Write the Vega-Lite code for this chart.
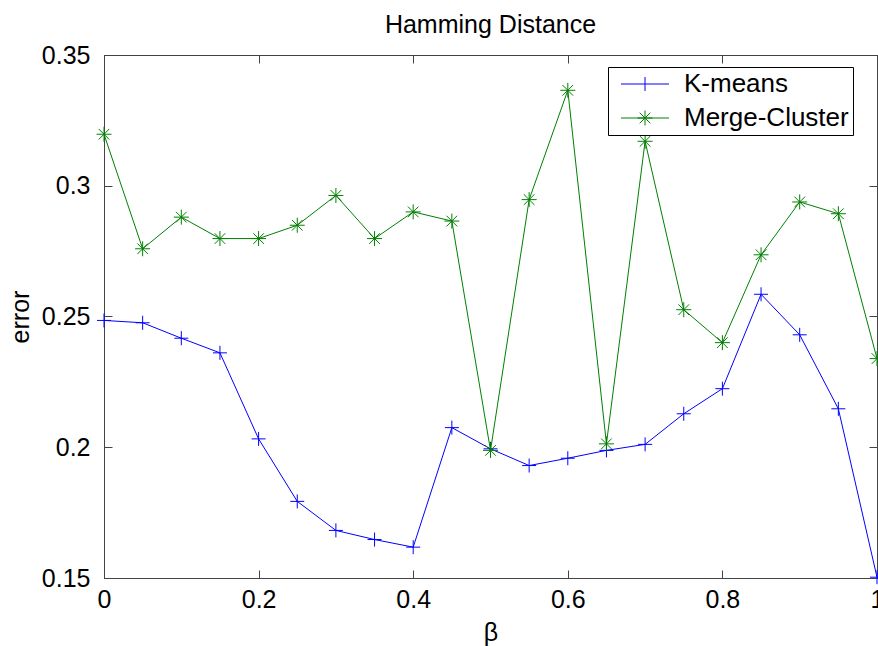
{
  "$schema": "https://vega.github.io/schema/vega-lite/v6.json",
  "width": 773,
  "height": 523,
  "autosize": "none",
  "padding": {"left": 104, "top": 55, "right": 1, "bottom": 68},
  "background": "white",
  "title": {
    "text": "Hamming Distance",
    "font": "Liberation Sans",
    "fontSize": 25,
    "fontWeight": "normal",
    "color": "black",
    "baseline": "bottom",
    "offset": -20
  },
  "data": {
    "values": [
      {"beta": 0.00, "error": 0.2485, "method": "K-means"},
      {"beta": 0.05, "error": 0.2476, "method": "K-means"},
      {"beta": 0.10, "error": 0.2417, "method": "K-means"},
      {"beta": 0.15, "error": 0.2361, "method": "K-means"},
      {"beta": 0.20, "error": 0.2032, "method": "K-means"},
      {"beta": 0.25, "error": 0.1793, "method": "K-means"},
      {"beta": 0.30, "error": 0.1682, "method": "K-means"},
      {"beta": 0.35, "error": 0.1647, "method": "K-means"},
      {"beta": 0.40, "error": 0.1618, "method": "K-means"},
      {"beta": 0.45, "error": 0.2075, "method": "K-means"},
      {"beta": 0.50, "error": 0.1994, "method": "K-means"},
      {"beta": 0.55, "error": 0.1930, "method": "K-means"},
      {"beta": 0.60, "error": 0.1958, "method": "K-means"},
      {"beta": 0.65, "error": 0.1988, "method": "K-means"},
      {"beta": 0.70, "error": 0.2011, "method": "K-means"},
      {"beta": 0.75, "error": 0.2128, "method": "K-means"},
      {"beta": 0.80, "error": 0.2224, "method": "K-means"},
      {"beta": 0.85, "error": 0.2585, "method": "K-means"},
      {"beta": 0.90, "error": 0.2430, "method": "K-means"},
      {"beta": 0.95, "error": 0.2147, "method": "K-means"},
      {"beta": 1.00, "error": 0.1503, "method": "K-means"},
      {"beta": 0.00, "error": 0.3197, "method": "Merge-Cluster"},
      {"beta": 0.05, "error": 0.2759, "method": "Merge-Cluster"},
      {"beta": 0.10, "error": 0.2880, "method": "Merge-Cluster"},
      {"beta": 0.15, "error": 0.2798, "method": "Merge-Cluster"},
      {"beta": 0.20, "error": 0.2798, "method": "Merge-Cluster"},
      {"beta": 0.25, "error": 0.2849, "method": "Merge-Cluster"},
      {"beta": 0.30, "error": 0.2963, "method": "Merge-Cluster"},
      {"beta": 0.35, "error": 0.2798, "method": "Merge-Cluster"},
      {"beta": 0.40, "error": 0.2900, "method": "Merge-Cluster"},
      {"beta": 0.45, "error": 0.2865, "method": "Merge-Cluster"},
      {"beta": 0.50, "error": 0.1988, "method": "Merge-Cluster"},
      {"beta": 0.55, "error": 0.2947, "method": "Merge-Cluster"},
      {"beta": 0.60, "error": 0.3365, "method": "Merge-Cluster"},
      {"beta": 0.65, "error": 0.2013, "method": "Merge-Cluster"},
      {"beta": 0.70, "error": 0.3170, "method": "Merge-Cluster"},
      {"beta": 0.75, "error": 0.2526, "method": "Merge-Cluster"},
      {"beta": 0.80, "error": 0.2400, "method": "Merge-Cluster"},
      {"beta": 0.85, "error": 0.2736, "method": "Merge-Cluster"},
      {"beta": 0.90, "error": 0.2938, "method": "Merge-Cluster"},
      {"beta": 0.95, "error": 0.2893, "method": "Merge-Cluster"},
      {"beta": 1.00, "error": 0.2339, "method": "Merge-Cluster"}
    ]
  },
  "config": {
    "view": {"stroke": "#444444", "strokeWidth": 1},
    "axis": {
      "grid": false,
      "labelFlush": false,
      "domainColor": "#444444",
      "tickColor": "#444444",
      "tickSize": -8,
      "labelFont": "Liberation Sans",
      "labelFontSize": 25,
      "labelColor": "black",
      "titleFont": "Liberation Sans",
      "titleFontSize": 25,
      "titleFontWeight": "normal",
      "titleColor": "black"
    },
    "legend": {
      "title": null,
      "orient": "none",
      "legendX": 504,
      "legendY": 12,
      "strokeColor": "black",
      "fillColor": "white",
      "padding": 4,
      "cornerRadius": 0,
      "labelFont": "Liberation Sans",
      "labelFontSize": 26,
      "labelColor": "black",
      "labelLimit": 400,
      "symbolSize": 196,
      "symbolStrokeWidth": 1,
      "symbolOffset": 20,
      "labelOffset": 26,
      "rowPadding": 8
    }
  },
  "layer": [
    {
      "mark": {"type": "line", "strokeWidth": 1},
      "encoding": {
        "x": {
          "field": "beta",
          "type": "quantitative",
          "scale": {"domain": [0, 1], "nice": false, "zero": false},
          "axis": {
            "orient": "bottom",
            "values": [0, 0.2, 0.4, 0.6, 0.8, 1],
            "format": "~g",
            "labelPadding": 17,
            "title": "β",
            "titleBaseline": "alphabetic",
            "titleY": 62
          }
        },
        "y": {
          "field": "error",
          "type": "quantitative",
          "scale": {"domain": [0.15, 0.35], "nice": false, "zero": false},
          "axis": {
            "orient": "left",
            "values": [0.15, 0.2, 0.25, 0.3, 0.35],
            "format": "~g",
            "labelPadding": 22,
            "title": "error",
            "titleAngle": 270,
            "titleBaseline": "alphabetic",
            "titleAlign": "center",
            "titleX": -76,
            "titleY": 261.5
          }
        },
        "color": {
          "field": "method",
          "type": "nominal",
          "scale": {"domain": ["K-means", "Merge-Cluster"], "range": ["#0000ff", "#008000"]},
          "legend": {
            "symbolType": {"expr": "datum.value === 'K-means' ? 'M-3.43,0L3.43,0M0,-1L0,1' : 'M-3.43,0L3.43,0M-1.07,0L1.07,0M0,-1.07L0,1.07M-0.76,-0.76L0.76,0.76M-0.76,0.76L0.76,-0.76'"}
          }
        }
      }
    },
    {
      "transform": [{"filter": "datum.method === 'K-means'"}],
      "mark": {
        "type": "point",
        "filled": false,
        "opacity": 1,
        "strokeWidth": 1,
        "size": 196,
        "color": "#0000ff",
        "shape": "M-1,0L1,0M0,-1L0,1"
      },
      "encoding": {
        "x": {
          "field": "beta",
          "type": "quantitative",
          "axis": {
            "orient": "top",
            "values": [0, 0.2, 0.4, 0.6, 0.8, 1],
            "labels": false,
            "title": null
          }
        },
        "y": {
          "field": "error",
          "type": "quantitative",
          "axis": {
            "orient": "right",
            "values": [0.15, 0.2, 0.25, 0.3, 0.35],
            "labels": false,
            "title": null
          }
        }
      }
    },
    {
      "transform": [{"filter": "datum.method === 'Merge-Cluster'"}],
      "mark": {
        "type": "point",
        "filled": false,
        "opacity": 1,
        "strokeWidth": 1,
        "size": 225,
        "color": "#008000",
        "shape": "M-1,0L1,0M0,-1L0,1M-0.71,-0.71L0.71,0.71M-0.71,0.71L0.71,-0.71"
      },
      "encoding": {
        "x": {"field": "beta", "type": "quantitative", "axis": null},
        "y": {"field": "error", "type": "quantitative", "axis": null}
      }
    }
  ],
  "resolve": {"axis": {"x": "independent", "y": "independent"}}
}
